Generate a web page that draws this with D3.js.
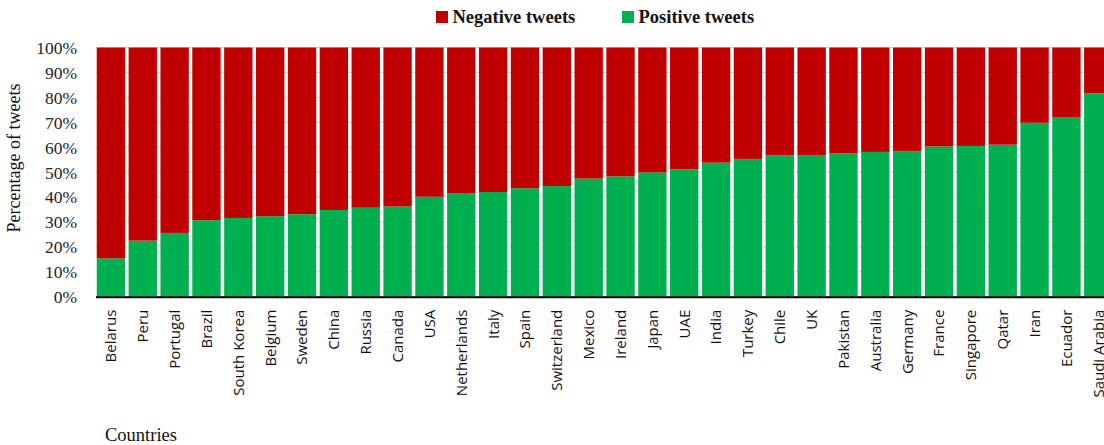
<!DOCTYPE html>
<html><head><meta charset="utf-8">
<script src="https://cdn.jsdelivr.net/npm/d3@7"></script>
<style>body{margin:0;background:#fff;overflow:hidden}</style>
</head><body>
<svg id="chart" width="1104" height="445"></svg>
<script>
const countries = ["Belarus","Peru","Portugal","Brazil","South Korea","Belgium","Sweden","China","Russia","Canada","USA","Netherlands","Italy","Spain","Switzerland","Mexico","Ireland","Japan","UAE","India","Turkey","Chile","UK","Pakistan","Australia","Germany","France","Singapore","Qatar","Iran","Ecuador","Saudi Arabia"];
const positive = [15.4,22.5,25.6,30.7,31.6,32.3,33.1,34.8,35.7,36.2,40.1,41.6,42.0,43.5,44.4,47.4,48.3,49.9,51.1,53.8,55.3,56.7,56.8,57.5,58.1,58.5,60.3,60.5,61.0,69.8,72.1,81.6];
const negative = positive.map(v => 100 - v);
const yTicks = [0,10,20,30,40,50,60,70,80,90,100];
const seriesNames = ["Negative tweets","Positive tweets"];
const colors = {"Negative tweets":"#C00000","Positive tweets":"#00B050"};

const serif = "Liberation Serif, Times New Roman, serif";
const svg = d3.select("#chart");
const x = d3.scaleBand().domain(countries).range([95, 1114.2]).paddingInner(0.11).paddingOuter(0.055);
const y = d3.scaleLinear().domain([0,100]).range([296.7, 47.5]);

// gridlines
svg.append("g").selectAll("line").data(yTicks).join("line")
  .attr("x1", 96).attr("x2", 1104)
  .attr("y1", d => y(d)).attr("y2", d => y(d))
  .attr("stroke", "#d9d9d9").attr("stroke-width", 1);

const rows = countries.map((c,i) => ({country:c, pos:positive[i], neg:negative[i]}));
svg.append("g").selectAll("rect").data(rows).join("rect")
  .attr("x", d => x(d.country)).attr("width", x.bandwidth())
  .attr("y", d => y(d.pos)).attr("height", d => y(0) - y(d.pos))
  .attr("fill", colors["Positive tweets"]);
svg.append("g").selectAll("rect").data(rows).join("rect")
  .attr("x", d => x(d.country)).attr("width", x.bandwidth())
  .attr("y", d => y(d.pos + d.neg)).attr("height", d => y(d.pos) - y(d.pos + d.neg))
  .attr("fill", colors["Negative tweets"]);

// y axis labels
const yAxis = d3.axisLeft(y).tickValues(yTicks).tickFormat(d => d + "%").tickSize(0).tickPadding(0);
const ya = svg.append("g").attr("transform", "translate(77,0)").call(yAxis);
ya.select(".domain").remove();
ya.selectAll("text").attr("font-family", serif).attr("font-size", 17.5).attr("fill", "#222").attr("dy", "0.34em");

// x axis
const xAxis = d3.axisBottom(x).tickSize(0).tickPadding(0);
const xa = svg.append("g").attr("transform", `translate(0,${y(0)})`).call(xAxis);
xa.select(".domain").remove();
xa.selectAll("text")
  .attr("font-family", "Open Sans, sans-serif").attr("font-size", 15).attr("fill", "#111")
  .attr("transform", "rotate(-90)")
  .attr("text-anchor", "end").attr("dy", "0.36em").attr("x", -13).attr("y", 0);
svg.append("line").attr("x1", 96).attr("x2", 1104).attr("y1", y(0)+0.5).attr("y2", y(0)+0.5)
  .attr("stroke", "#000").attr("stroke-width", 2);

// axis titles
svg.append("text").attr("transform", "translate(20,158) rotate(-90)").attr("text-anchor", "middle")
  .attr("font-family", serif).attr("font-size", 18).attr("fill", "#111")
  .text("Percentage of tweets");
svg.append("text").attr("x", 105).attr("y", 441)
  .attr("font-family", serif).attr("font-size", 18.5).attr("fill", "#111")
  .text("Countries");

// legend
const legX = [436, 622];
const lg = svg.append("g").selectAll("g").data(seriesNames).join("g")
  .attr("transform", (d,i) => `translate(${legX[i]},0)`);
lg.append("rect").attr("x", 0).attr("y", 11).attr("width", 12).attr("height", 12).attr("fill", d => colors[d]);
lg.append("text").attr("x", 16.5).attr("y", 23)
  .attr("font-family", serif).attr("font-size", 18.5).attr("font-weight", "bold").attr("fill", "#111")
  .text(d => d);
</script>
</body></html>
